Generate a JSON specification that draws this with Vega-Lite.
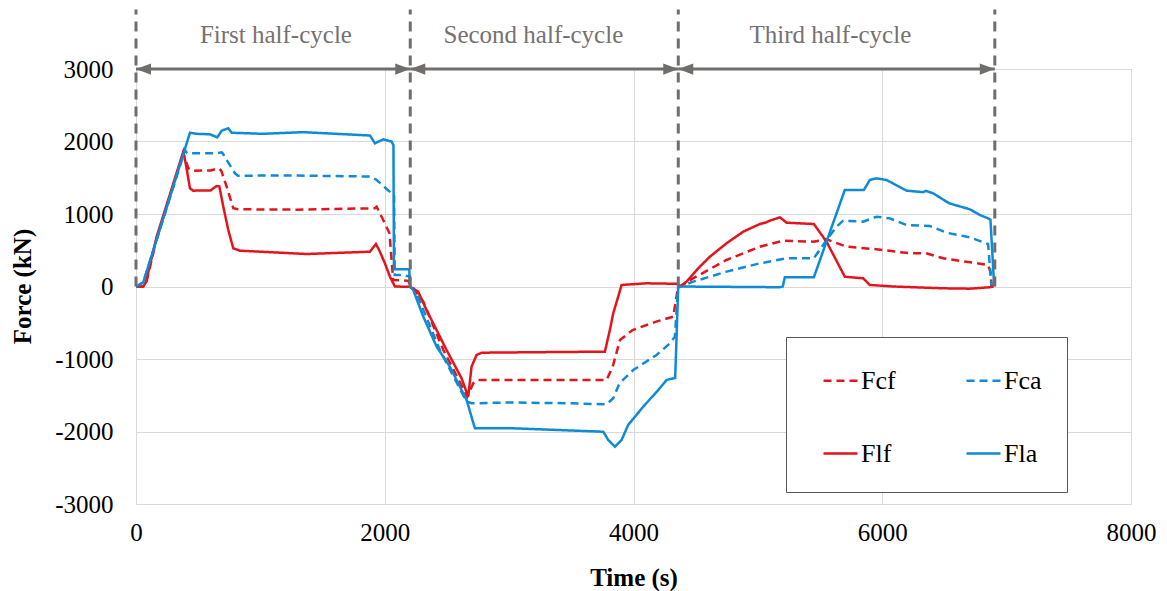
{
  "$schema": "https://vega.github.io/schema/vega-lite/v6.json",
  "width": 995,
  "height": 435,
  "autosize": {"type": "none"},
  "padding": {"left": 136, "top": 69, "right": 36, "bottom": 87},
  "background": "white",
  "config": {"view": {"stroke": null}},
  "datasets": {
    "series": [
      {"s":"Fcf","t":0,"v":0},{"s":"Fcf","t":59,"v":0},{"s":"Fcf","t":85,"v":70},{"s":"Fcf","t":166,"v":660},{"s":"Fcf","t":380,"v":1837},{"s":"Fcf","t":421,"v":1630},{"s":"Fcf","t":450,"v":1598},{"s":"Fcf","t":600,"v":1600},{"s":"Fcf","t":662,"v":1630},{"s":"Fcf","t":685,"v":1600},{"s":"Fcf","t":729,"v":1377},{"s":"Fcf","t":782,"v":1079},{"s":"Fcf","t":820,"v":1065},{"s":"Fcf","t":1300,"v":1060},{"s":"Fcf","t":1921,"v":1079},{"s":"Fcf","t":1935,"v":1100},{"s":"Fcf","t":1988,"v":917},{"s":"Fcf","t":2038,"v":734},{"s":"Fcf","t":2068,"v":90},{"s":"Fcf","t":2189,"v":78},{"s":"Fcf","t":2210,"v":0},{"s":"Fcf","t":2229,"v":-20},{"s":"Fcf","t":2310,"v":-209},{"s":"Fcf","t":2471,"v":-876},{"s":"Fcf","t":2664,"v":-1520},{"s":"Fcf","t":2711,"v":-1336},{"s":"Fcf","t":2750,"v":-1290},{"s":"Fcf","t":3300,"v":-1290},{"s":"Fcf","t":3783,"v":-1290},{"s":"Fcf","t":3833,"v":-1106},{"s":"Fcf","t":3891,"v":-738},{"s":"Fcf","t":3993,"v":-600},{"s":"Fcf","t":4182,"v":-485},{"s":"Fcf","t":4319,"v":-416},{"s":"Fcf","t":4340,"v":-200},{"s":"Fcf","t":4359,"v":0},{"s":"Fcf","t":4373,"v":0},{"s":"Fcf","t":4480,"v":113},{"s":"Fcf","t":4748,"v":366},{"s":"Fcf","t":5016,"v":549},{"s":"Fcf","t":5203,"v":632},{"s":"Fcf","t":5445,"v":618},{"s":"Fcf","t":5552,"v":651},{"s":"Fcf","t":5713,"v":549},{"s":"Fcf","t":5954,"v":513},{"s":"Fcf","t":6222,"v":458},{"s":"Fcf","t":6350,"v":460},{"s":"Fcf","t":6490,"v":389},{"s":"Fcf","t":6851,"v":297},{"s":"Fcf","t":6870,"v":200},{"s":"Fcf","t":6880,"v":0},

      {"s":"Fca","t":0,"v":0},{"s":"Fca","t":5,"v":0},{"s":"Fca","t":59,"v":60},{"s":"Fca","t":394,"v":1883},{"s":"Fca","t":410,"v":1840},{"s":"Fca","t":450,"v":1837},{"s":"Fca","t":600,"v":1837},{"s":"Fca","t":660,"v":1840},{"s":"Fca","t":689,"v":1850},{"s":"Fca","t":700,"v":1830},{"s":"Fca","t":729,"v":1745},{"s":"Fca","t":796,"v":1561},{"s":"Fca","t":820,"v":1529},{"s":"Fca","t":1300,"v":1530},{"s":"Fca","t":1881,"v":1517},{"s":"Fca","t":1935,"v":1469},{"s":"Fca","t":1980,"v":1400},{"s":"Fca","t":2055,"v":1285},{"s":"Fca","t":2075,"v":1260},{"s":"Fca","t":2080,"v":159},{"s":"Fca","t":2147,"v":159},{"s":"Fca","t":2175,"v":145},{"s":"Fca","t":2200,"v":140},{"s":"Fca","t":2206,"v":0},{"s":"Fca","t":2256,"v":-94},{"s":"Fca","t":2443,"v":-876},{"s":"Fca","t":2658,"v":-1589},{"s":"Fca","t":2700,"v":-1611},{"s":"Fca","t":3000,"v":-1600},{"s":"Fca","t":3500,"v":-1611},{"s":"Fca","t":3783,"v":-1625},{"s":"Fca","t":3837,"v":-1542},{"s":"Fca","t":3887,"v":-1336},{"s":"Fca","t":3998,"v":-1152},{"s":"Fca","t":4185,"v":-945},{"s":"Fca","t":4293,"v":-783},{"s":"Fca","t":4333,"v":-692},{"s":"Fca","t":4359,"v":0},{"s":"Fca","t":4373,"v":0},{"s":"Fca","t":4480,"v":67},{"s":"Fca","t":4748,"v":205},{"s":"Fca","t":5016,"v":320},{"s":"Fca","t":5231,"v":389},{"s":"Fca","t":5450,"v":389},{"s":"Fca","t":5552,"v":641},{"s":"Fca","t":5632,"v":825},{"s":"Fca","t":5686,"v":908},{"s":"Fca","t":5847,"v":894},{"s":"Fca","t":5954,"v":963},{"s":"Fca","t":6061,"v":940},{"s":"Fca","t":6196,"v":848},{"s":"Fca","t":6383,"v":834},{"s":"Fca","t":6517,"v":742},{"s":"Fca","t":6704,"v":679},{"s":"Fca","t":6851,"v":586},{"s":"Fca","t":6878,"v":0},

      {"s":"Flf","t":0,"v":0},{"s":"Flf","t":59,"v":0},{"s":"Flf","t":80,"v":60},{"s":"Flf","t":166,"v":687},{"s":"Flf","t":380,"v":1860},{"s":"Flf","t":402,"v":1676},{"s":"Flf","t":434,"v":1354},{"s":"Flf","t":460,"v":1322},{"s":"Flf","t":600,"v":1325},{"s":"Flf","t":648,"v":1386},{"s":"Flf","t":670,"v":1380},{"s":"Flf","t":702,"v":1101},{"s":"Flf","t":742,"v":779},{"s":"Flf","t":782,"v":527},{"s":"Flf","t":836,"v":494},{"s":"Flf","t":1372,"v":448},{"s":"Flf","t":1881,"v":480},{"s":"Flf","t":1929,"v":586},{"s":"Flf","t":1956,"v":500},{"s":"Flf","t":2001,"v":320},{"s":"Flf","t":2042,"v":135},{"s":"Flf","t":2082,"v":0},{"s":"Flf","t":2200,"v":-5},{"s":"Flf","t":2269,"v":-71},{"s":"Flf","t":2336,"v":-324},{"s":"Flf","t":2497,"v":-876},{"s":"Flf","t":2618,"v":-1267},{"s":"Flf","t":2671,"v":-1520},{"s":"Flf","t":2698,"v":-1106},{"s":"Flf","t":2738,"v":-945},{"s":"Flf","t":2780,"v":-913},{"s":"Flf","t":3300,"v":-905},{"s":"Flf","t":3770,"v":-899},{"s":"Flf","t":3810,"v":-600},{"s":"Flf","t":3837,"v":-370},{"s":"Flf","t":3877,"v":-140},{"s":"Flf","t":3904,"v":21},{"s":"Flf","t":4105,"v":44},{"s":"Flf","t":4357,"v":37},{"s":"Flf","t":4373,"v":0},{"s":"Flf","t":4427,"v":67},{"s":"Flf","t":4520,"v":250},{"s":"Flf","t":4614,"v":411},{"s":"Flf","t":4748,"v":596},{"s":"Flf","t":4882,"v":756},{"s":"Flf","t":5016,"v":862},{"s":"Flf","t":5060,"v":880},{"s":"Flf","t":5096,"v":908},{"s":"Flf","t":5177,"v":954},{"s":"Flf","t":5231,"v":880},{"s":"Flf","t":5450,"v":862},{"s":"Flf","t":5552,"v":618},{"s":"Flf","t":5699,"v":135},{"s":"Flf","t":5847,"v":113},{"s":"Flf","t":5900,"v":21},{"s":"Flf","t":6089,"v":0},{"s":"Flf","t":6490,"v":-25},{"s":"Flf","t":6704,"v":-30},{"s":"Flf","t":6865,"v":-10},{"s":"Flf","t":6895,"v":0},

      {"s":"Fla","t":0,"v":0},{"s":"Fla","t":5,"v":0},{"s":"Fla","t":59,"v":60},{"s":"Fla","t":434,"v":2121},{"s":"Fla","t":488,"v":2106},{"s":"Fla","t":595,"v":2099},{"s":"Fla","t":654,"v":2058},{"s":"Fla","t":689,"v":2149},{"s":"Fla","t":742,"v":2182},{"s":"Fla","t":769,"v":2121},{"s":"Fla","t":1023,"v":2106},{"s":"Fla","t":1345,"v":2129},{"s":"Fla","t":1881,"v":2083},{"s":"Fla","t":1921,"v":1975},{"s":"Fla","t":1988,"v":2030},{"s":"Fla","t":2055,"v":2000},{"s":"Fla","t":2070,"v":1950},{"s":"Fla","t":2074,"v":237},{"s":"Fla","t":2197,"v":237},{"s":"Fla","t":2203,"v":0},{"s":"Fla","t":2229,"v":-48},{"s":"Fla","t":2310,"v":-416},{"s":"Fla","t":2417,"v":-830},{"s":"Fla","t":2524,"v":-1106},{"s":"Fla","t":2658,"v":-1566},{"s":"Fla","t":2725,"v":-1956},{"s":"Fla","t":3033,"v":-1956},{"s":"Fla","t":3757,"v":-2003},{"s":"Fla","t":3797,"v":-2117},{"s":"Fla","t":3851,"v":-2210},{"s":"Fla","t":3904,"v":-2117},{"s":"Fla","t":3957,"v":-1910},{"s":"Fla","t":4078,"v":-1658},{"s":"Fla","t":4199,"v":-1428},{"s":"Fla","t":4266,"v":-1290},{"s":"Fla","t":4319,"v":-1267},{"s":"Fla","t":4335,"v":-1262},{"s":"Fla","t":4360,"v":0},{"s":"Fla","t":5177,"v":-10},{"s":"Fla","t":5200,"v":0},{"s":"Fla","t":5217,"v":127},{"s":"Fla","t":5450,"v":127},{"s":"Fla","t":5699,"v":1331},{"s":"Fla","t":5852,"v":1331},{"s":"Fla","t":5900,"v":1469},{"s":"Fla","t":5954,"v":1492},{"s":"Fla","t":6035,"v":1469},{"s":"Fla","t":6196,"v":1322},{"s":"Fla","t":6329,"v":1301},{"s":"Fla","t":6350,"v":1320},{"s":"Fla","t":6409,"v":1285},{"s":"Fla","t":6539,"v":1147},{"s":"Fla","t":6704,"v":1065},{"s":"Fla","t":6785,"v":986},{"s":"Fla","t":6851,"v":940},{"s":"Fla","t":6870,"v":920},{"s":"Fla","t":6900,"v":0}
    ],
    "bounds": [
      {"t":0,"v":0,"v2":3820},{"t":2205,"v":0,"v2":3820},{"t":4360,"v":0,"v2":3820},{"t":6905,"v":0,"v2":3820}
    ],
    "spans": [
      {"t":0,"t2":2205,"v":3000},{"t":2205,"t2":4360,"v":3000},{"t":4360,"t2":6905,"v":3000}
    ],
    "heads": [
      {"t":0,"v":3000,"dir":"L"},{"t":2205,"v":3000,"dir":"L"},{"t":4360,"v":3000,"dir":"L"},
      {"t":2205,"v":3000,"dir":"R"},{"t":4360,"v":3000,"dir":"R"},{"t":6905,"v":3000,"dir":"R"}
    ],
    "labels": [
      {"t":1125,"v":3360,"label":"First half-cycle"},
      {"t":3195,"v":3360,"label":"Second half-cycle"},
      {"t":5583,"v":3360,"label":"Third half-cycle"}
    ]
  },
  "encoding": {
    "x": {
      "field": "t", "type": "quantitative",
      "scale": {"domain": [0, 8000], "nice": false, "zero": false},
      "axis": {
        "values": [0, 2000, 4000, 6000, 8000],
        "labelExpr": "'' + datum.value",
        "grid": true, "gridColor": "#d9d9d9", "gridWidth": 1,
        "domain": false, "ticks": false, "labelFlush": false,
        "labelFont": "Liberation Serif", "labelFontSize": 25, "labelColor": "#000000", "labelPadding": 16,
        "title": "Time (s)", "titleFont": "Liberation Serif", "titleFontSize": 25, "titleFontWeight": "bold", "titleColor": "#000000",
        "titleY": 73, "titleBaseline": "middle"
      }
    },
    "y": {
      "field": "v", "type": "quantitative",
      "scale": {"domain": [-3000, 3000], "nice": false, "zero": false},
      "axis": {
        "values": [-3000, -2000, -1000, 0, 1000, 2000, 3000],
        "labelExpr": "'' + datum.value",
        "grid": true, "gridColor": "#d9d9d9", "gridWidth": 1,
        "domain": false, "ticks": false, "labelFlush": false,
        "labelFont": "Liberation Serif", "labelFontSize": 25, "labelColor": "#000000", "labelPadding": 23,
        "title": "Force (kN)", "titleFont": "Liberation Serif", "titleFontSize": 25, "titleFontWeight": "bold", "titleColor": "#000000",
        "titleX": -114, "titleY": 217, "titleAngle": -90, "titleBaseline": "middle", "titleAlign": "center"
      }
    }
  },
  "layer": [
    {
      "data": {"name": "series"},
      "mark": {"type": "line", "strokeWidth": 2.5},
      "encoding": {
        "color": {
          "field": "s", "type": "nominal",
          "scale": {"domain": ["Fcf", "Fca", "Flf", "Fla"], "range": ["#e3141c", "#0e8ad6", "#e3141c", "#0e8ad6"]},
          "legend": {
            "values": ["Fcf", "Flf", "Fca", "Fla"],
            "orient": "none", "legendX": 650, "legendY": 268, "columns": 2, "title": null,
            "symbolType": "stroke", "symbolSize": 1156, "symbolStrokeWidth": 2.5,
            "labelFont": "Liberation Serif", "labelFontSize": 26, "labelColor": "#000000", "labelOffset": 2,
            "rowPadding": 41, "columnPadding": 58, "padding": 25, "symbolOffset": 11,
            "strokeColor": "#595959", "fillColor": "#ffffff"
          }
        },
        "strokeDash": {
          "field": "s", "type": "nominal",
          "scale": {"domain": ["Fcf", "Fca", "Flf", "Fla"], "range": [[8, 5], [8, 5], [1, 0], [1, 0]]},
          "legend": {
            "values": ["Fcf", "Flf", "Fca", "Fla"],
            "orient": "none", "legendX": 650, "legendY": 268, "columns": 2, "title": null,
            "symbolType": "stroke", "symbolSize": 1156, "symbolStrokeWidth": 2.5,
            "labelFont": "Liberation Serif", "labelFontSize": 26, "labelColor": "#000000", "labelOffset": 2,
            "rowPadding": 41, "columnPadding": 58, "padding": 25, "symbolOffset": 11,
            "strokeColor": "#595959", "fillColor": "#ffffff"
          }
        }
      }
    },
    {
      "data": {"name": "bounds"},
      "mark": {"type": "rule", "color": "#716d6d", "strokeWidth": 3, "strokeDash": [10, 7]},
      "encoding": {"y2": {"field": "v2"}}
    },
    {
      "data": {"name": "spans"},
      "mark": {"type": "rule", "color": "#716d6d", "strokeWidth": 3},
      "encoding": {"x2": {"field": "t2"}}
    },
    {
      "data": {"name": "heads"},
      "mark": {"type": "point", "filled": true, "color": "#716d6d", "opacity": 1, "size": 225, "strokeWidth": 0},
      "encoding": {
        "shape": {
          "field": "dir", "type": "nominal",
          "scale": {"domain": ["L", "R"], "range": ["M0,0L2,-0.75L2,0.75Z", "M0,0L-2,-0.75L-2,0.75Z"]},
          "legend": null
        }
      }
    },
    {
      "data": {"name": "labels"},
      "mark": {"type": "text", "font": "Liberation Serif", "fontSize": 25, "color": "#767171", "align": "center", "baseline": "alphabetic"},
      "encoding": {"text": {"field": "label"}}
    }
  ]
}
